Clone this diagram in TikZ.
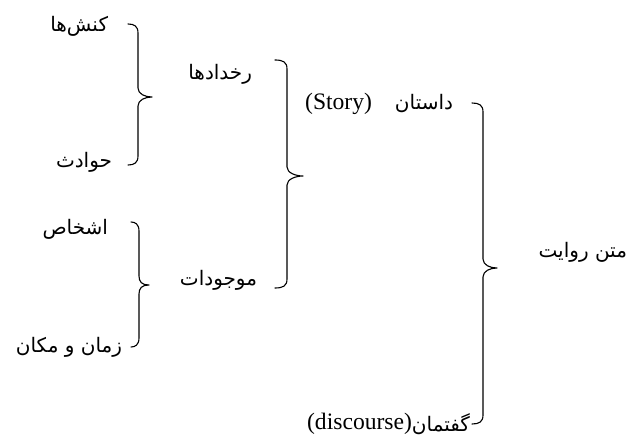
\documentclass[tikz,border=0pt]{standalone}
\usepackage{fontspec}
\setmainfont{Liberation Serif}
\newfontfamily\fafont[Script=Arabic]{DejaVu Sans}
\TeXXeTstate=1
\newcommand\fatext[1]{{\fafont\fontsize{20}{24}\selectfont\beginR #1\endR}}
\newcommand\latext[1]{{\fontsize{23.6}{28}\selectfont #1}}
% name, xl, xv, xt, ytop, ymid, ybot
\newcommand\drawbrace[7]{%
  \coordinate (#1-top) at (#2,#5);
  \coordinate (#1-tip) at (#4,#6);
  \coordinate (#1-bot) at (#2,#7);
  \draw[brc] (#1-top) .. controls (#3-4,#5) and (#3,#5+2) .. (#3,#5+9)
    -- (#3,#6-9) .. controls (#3,#6-3) and (#4-7,#6) .. (#1-tip)
    .. controls (#4-7,#6) and (#3,#6+3) .. (#3,#6+9)
    -- (#3,#7-9) .. controls (#3,#7-2) and (#3-4,#7) .. (#1-bot);
}
\begin{document}
\begin{tikzpicture}[x=1pt,y=-1pt,
  brc/.style={line width=1.1pt, line cap=round, line join=round},
  lbl/.style={inner sep=0pt, outer sep=0pt}]
\useasboundingbox[fill=white] (0,0) rectangle (628,438);

% leaves
\node[lbl, anchor=east] (konesh) at (108,26) {\fatext{کنش‌ها}};
\node[lbl, anchor=east] (havades) at (112,162) {\fatext{حوادث}};
\node[lbl, anchor=east] (ashkhas) at (108,229) {\fatext{اشخاص}};
\node[lbl, anchor=east] (zaman) at (122,347) {\fatext{زمان و مکان}};

% middle level
\node[lbl, anchor=east] (rokhdad) at (252,74) {\fatext{رخدادها}};
\node[lbl, anchor=east] (mojud) at (257,280) {\fatext{موجودات}};

% upper level
\node[lbl, anchor=east] (dastan) at (453,104) {\fatext{داستان}};
\node[lbl, anchor=east] (story) at (372,104) {\latext{(Story)}};
\node[lbl, anchor=east] (goftman) at (470,424) {\fatext{گفتمان}};
\node[lbl, anchor=east] (discourse) at (goftman.west) {\latext{(discourse)}};

% root
\node[lbl, anchor=east] (matn) at (627,252) {\fatext{متن روایت}};

% braces
\drawbrace{bA}{128}{138}{152}{24}{97}{165}
\drawbrace{bB}{131}{139}{149}{222}{285}{347}
\drawbrace{bC}{275}{287}{303}{60}{176}{288}
\drawbrace{bD}{472}{483}{497}{103}{268}{424}
\end{tikzpicture}
\end{document}
